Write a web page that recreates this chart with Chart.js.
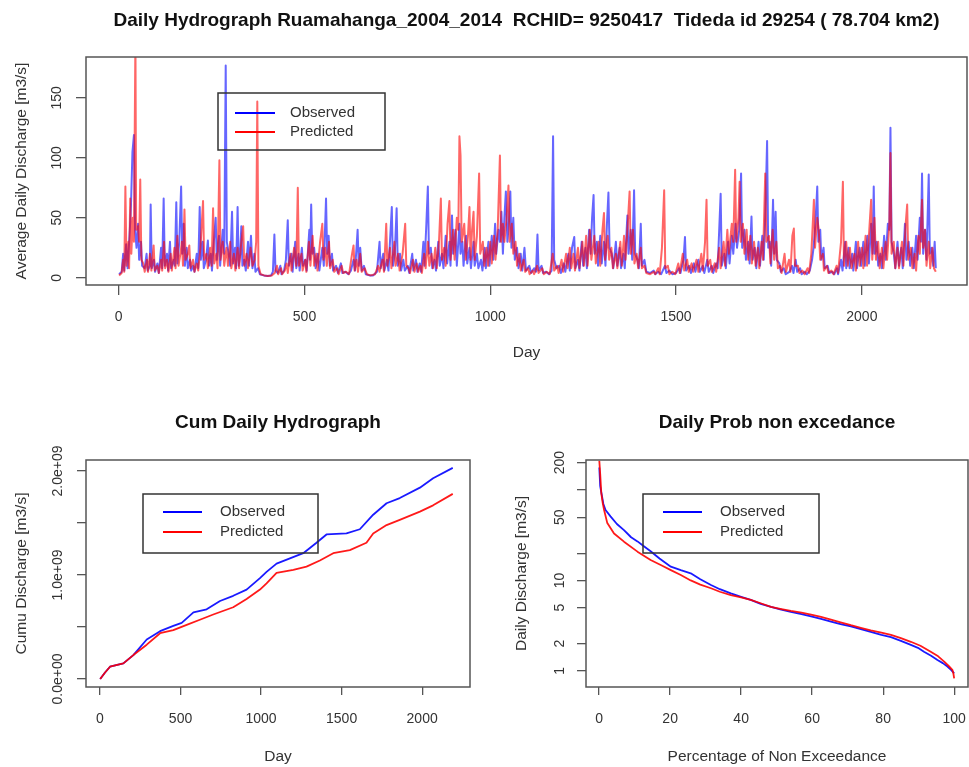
<!DOCTYPE html>
<html>
<head>
<meta charset="utf-8">
<script src="https://cdn.jsdelivr.net/npm/chart.js@4.4.1/dist/chart.umd.min.js"></script>
<style>
  html, body { margin: 0; padding: 0; background: #fff; overflow: hidden; }
  canvas { position: absolute; }
  #top { left: 0; top: 0; }
  #cum { left: 0; top: 400px; }
  #fdc { left: 490px; top: 400px; }
</style>
</head>
<body>
<canvas id="top" width="969" height="380"></canvas>
<canvas id="cum" width="490" height="367"></canvas>
<canvas id="fdc" width="479" height="367"></canvas>
<script>
const seriesNames = ['Observed', 'Predicted'];
const seriesColors = ['#0000ff', '#ff0000'];

// daily discharge [day, m3/s]
const obsDaily = [[1,3],[8,5],[12,20],[15,6],[20,28],[24,8],[30,40],[33,60],[37,105],[41,119],[44,40],[48,25],[52,45],[55,15],[60,30],[63,10],[70,8],[75,20],[78,6],[84,10],[86,61],[89,8],[95,15],[98,5],[104,12],[108,4],[114,25],[117,8],[121,66],[124,10],[130,20],[133,6],[138,30],[141,8],[148,15],[151,10],[155,63],[158,12],[163,30],[168,76],[171,20],[175,45],[178,10],[183,25],[186,8],[192,15],[195,6],[200,10],[204,5],[210,20],[214,8],[218,59],[221,15],[226,30],[229,8],[235,15],[240,31],[243,10],[248,20],[251,6],[256,30],[261,50],[264,15],[270,35],[273,10],[280,40],[284,20],[288,177],[291,30],[296,20],[300,10],[305,55],[308,12],[313,25],[316,8],[320,59],[323,10],[327,20],[330,43],[333,10],[338,15],[342,6],[348,30],[351,10],[356,35],[360,8],[365,20],[368,5],[375,8],[380,3],[390,2],[400,1.5],[410,2],[415,5],[419,36],[422,6],[428,4],[435,10],[438,3],[445,6],[450,15],[455,48],[458,10],[465,20],[468,5],[475,30],[478,8],[484,20],[487,6],[493,25],[496,10],[502,15],[506,6],[513,40],[515,15],[518,61],[521,20],[526,25],[530,8],[536,20],[540,6],[548,25],[552,10],[558,66],[561,20],[565,35],[568,10],[574,20],[577,6],[585,10],[590,4],[598,12],[602,4],[610,5],[618,3],[625,6],[632,15],[636,6],[640,25],[643,40],[646,10],[650,25],[654,6],[660,10],[665,3],[675,2],[685,2],[695,5],[702,30],[705,8],[712,20],[715,6],[722,15],[726,6],[735,59],[738,10],[743,20],[748,58],[751,10],[757,20],[760,6],[766,15],[770,6],[778,10],[782,4],[790,20],[793,6],[800,15],[804,5],[810,12],[814,5],[820,30],[823,10],[828,45],[832,76],[835,20],[840,25],[844,8],[850,15],[854,6],[860,30],[864,10],[870,20],[874,8],[880,35],[884,12],[890,30],[893,10],[897,52],[900,20],[906,40],[910,10],[917,45],[920,20],[925,30],[928,10],[935,35],[938,12],[944,25],[948,8],[955,30],[958,10],[964,20],[968,8],[975,15],[979,6],[985,25],[988,8],[995,30],[998,10],[1004,35],[1008,15],[1013,45],[1016,20],[1022,40],[1026,30],[1030,55],[1034,20],[1038,50],[1042,72],[1046,30],[1050,45],[1054,72],[1057,25],[1062,50],[1066,15],[1072,25],[1076,8],[1082,20],[1086,6],[1092,25],[1096,6],[1105,10],[1110,4],[1118,8],[1123,5],[1127,36],[1130,6],[1138,10],[1142,4],[1150,5],[1158,3],[1165,6],[1169,118],[1172,15],[1178,8],[1185,10],[1190,4],[1198,12],[1202,5],[1210,20],[1214,6],[1220,25],[1226,34],[1229,8],[1236,15],[1240,6],[1246,30],[1250,10],[1256,25],[1260,8],[1266,40],[1270,20],[1274,50],[1278,69],[1281,20],[1287,30],[1290,10],[1296,35],[1300,12],[1306,30],[1310,10],[1314,45],[1318,71],[1321,25],[1327,20],[1331,8],[1338,30],[1342,10],[1348,25],[1352,8],[1358,20],[1362,8],[1369,52],[1372,20],[1378,40],[1382,15],[1387,73],[1390,20],[1396,15],[1400,8],[1405,45],[1408,10],[1415,15],[1420,5],[1430,4],[1440,6],[1444,3],[1452,5],[1460,3],[1470,10],[1474,4],[1482,6],[1490,3],[1500,4],[1508,8],[1512,4],[1520,15],[1524,34],[1527,6],[1535,10],[1540,4],[1548,12],[1552,5],[1560,15],[1564,5],[1572,10],[1576,4],[1584,15],[1588,5],[1596,10],[1600,4],[1608,12],[1612,8],[1620,70],[1623,10],[1630,20],[1634,8],[1640,30],[1644,12],[1650,35],[1654,20],[1660,45],[1664,25],[1670,40],[1675,87],[1678,25],[1684,40],[1688,15],[1694,30],[1698,12],[1703,51],[1706,15],[1712,25],[1716,8],[1722,30],[1726,10],[1732,35],[1736,15],[1740,50],[1745,114],[1748,25],[1752,30],[1756,10],[1761,65],[1764,20],[1768,55],[1771,15],[1778,12],[1782,5],[1790,8],[1795,3],[1805,5],[1812,10],[1816,4],[1822,15],[1826,5],[1834,8],[1838,3],[1846,5],[1852,3],[1860,6],[1866,15],[1870,25],[1875,45],[1880,76],[1883,30],[1888,40],[1891,15],[1897,25],[1900,8],[1908,10],[1912,4],[1920,5],[1926,3],[1933,8],[1936,3],[1944,15],[1948,6],[1955,30],[1958,8],[1964,25],[1967,8],[1974,20],[1977,6],[1984,30],[1987,8],[1994,25],[1998,10],[2004,30],[2008,10],[2015,35],[2019,12],[2025,45],[2029,20],[2032,76],[2035,20],[2040,30],[2044,10],[2050,20],[2054,8],[2060,35],[2064,15],[2070,45],[2074,40],[2077,125],[2080,30],[2086,20],[2090,8],[2096,30],[2100,10],[2106,25],[2110,8],[2116,45],[2120,15],[2126,30],[2130,10],[2136,25],[2140,8],[2146,35],[2150,15],[2156,50],[2159,30],[2162,87],[2165,20],[2170,40],[2174,15],[2180,86],[2183,20],[2188,25],[2192,10],[2196,30],[2199,8]];

const predDaily = [[1,2],[8,4],[12,15],[15,5],[18,76],[21,10],[26,30],[28,8],[31,66],[34,20],[38,50],[41,30],[45,200],[47,40],[52,43],[55,30],[58,82],[61,15],[66,12],[70,5],[76,15],[79,5],[84,20],[88,6],[94,27],[97,6],[104,10],[108,4],[114,15],[117,6],[122,30],[125,8],[130,15],[134,5],[140,20],[143,6],[150,25],[153,8],[158,35],[161,10],[166,20],[170,30],[173,10],[177,57],[180,15],[186,20],[190,27],[193,8],[200,15],[204,5],[210,12],[214,6],[220,25],[227,64],[230,15],[236,20],[240,8],[246,25],[250,10],[254,58],[257,12],[263,20],[266,8],[271,98],[274,15],[280,30],[284,10],[290,25],[294,10],[300,30],[303,8],[310,20],[314,6],[320,25],[324,8],[330,30],[335,43],[338,10],[344,20],[348,8],[355,25],[360,10],[366,15],[370,30],[373,147],[376,10],[382,3],[392,2],[402,1.5],[412,2],[420,4],[426,10],[429,3],[437,8],[440,3],[447,6],[452,12],[455,4],[462,20],[465,6],[472,25],[478,10],[482,75],[485,10],[492,20],[495,6],[502,15],[505,5],[512,30],[516,10],[522,35],[526,10],[532,20],[535,6],[542,30],[548,45],[551,15],[556,25],[560,10],[566,30],[569,8],[576,15],[580,5],[588,8],[592,3],[600,10],[604,4],[612,5],[620,3],[628,20],[632,27],[635,6],[640,15],[644,5],[650,20],[654,5],[662,8],[668,3],[678,2],[690,3],[698,10],[702,5],[710,15],[714,5],[720,45],[723,10],[730,25],[734,8],[742,30],[745,10],[752,20],[756,6],[764,20],[771,45],[774,10],[780,8],[784,4],[792,15],[796,5],[802,12],[806,5],[812,10],[816,4],[822,20],[826,8],[832,30],[836,10],[842,20],[846,8],[852,25],[856,8],[862,30],[867,66],[870,15],[876,25],[880,10],[885,45],[890,64],[893,15],[900,40],[904,15],[910,50],[914,40],[917,118],[920,102],[923,30],[930,45],[934,15],[940,35],[944,59],[947,15],[951,40],[955,55],[958,15],[964,35],[970,87],[973,20],[980,30],[984,10],[990,25],[994,10],[1000,30],[1004,12],[1010,35],[1014,15],[1020,40],[1026,102],[1029,30],[1034,45],[1038,30],[1044,50],[1049,77],[1052,30],[1058,45],[1062,20],[1068,30],[1072,10],[1078,20],[1082,6],[1090,15],[1094,5],[1102,8],[1106,3],[1114,6],[1118,3],[1126,10],[1130,4],[1140,8],[1144,3],[1152,5],[1160,3],[1168,20],[1172,6],[1180,10],[1184,4],[1192,15],[1196,5],[1204,20],[1208,8],[1214,25],[1218,8],[1224,20],[1228,6],[1236,25],[1240,8],[1248,30],[1252,10],[1258,35],[1262,10],[1268,40],[1272,15],[1280,35],[1284,12],[1292,30],[1296,10],[1302,40],[1306,54],[1309,15],[1316,35],[1320,15],[1326,25],[1330,8],[1338,20],[1342,8],[1350,30],[1354,10],[1360,35],[1364,15],[1370,45],[1375,72],[1378,20],[1384,40],[1388,12],[1394,20],[1398,8],[1405,25],[1408,8],[1415,10],[1420,4],[1430,3],[1440,5],[1444,3],[1452,8],[1456,3],[1462,25],[1468,73],[1471,8],[1478,10],[1482,3],[1490,5],[1498,3],[1506,12],[1510,4],[1518,20],[1522,6],[1530,15],[1534,5],[1542,12],[1546,5],[1555,15],[1560,5],[1568,20],[1572,6],[1578,30],[1582,65],[1585,10],[1592,15],[1596,5],[1604,12],[1608,5],[1616,25],[1620,8],[1628,30],[1632,10],[1638,40],[1642,20],[1650,45],[1654,30],[1659,90],[1662,30],[1668,50],[1671,80],[1674,30],[1680,45],[1684,20],[1690,40],[1694,15],[1700,35],[1704,12],[1710,30],[1714,10],[1720,25],[1724,8],[1730,30],[1734,15],[1740,87],[1743,30],[1750,35],[1754,12],[1760,40],[1764,15],[1770,30],[1774,8],[1780,10],[1784,4],[1792,20],[1796,5],[1804,15],[1808,5],[1813,35],[1817,41],[1820,10],[1828,10],[1832,4],[1840,6],[1846,3],[1854,8],[1858,4],[1864,20],[1871,65],[1874,25],[1880,50],[1884,40],[1888,15],[1895,20],[1898,6],[1906,10],[1910,4],[1918,6],[1924,3],[1932,10],[1936,4],[1944,30],[1949,80],[1952,10],[1958,30],[1962,10],[1968,25],[1972,8],[1980,20],[1984,6],[1990,30],[1994,10],[2000,25],[2004,8],[2010,35],[2014,10],[2020,40],[2025,65],[2028,15],[2034,50],[2038,15],[2044,30],[2048,8],[2054,25],[2058,8],[2064,30],[2068,15],[2074,45],[2077,104],[2080,20],[2086,30],[2090,8],[2096,25],[2100,8],[2108,30],[2112,10],[2118,45],[2122,61],[2125,15],[2132,25],[2136,8],[2142,20],[2146,6],[2152,35],[2156,20],[2162,65],[2165,25],[2170,40],[2174,10],[2180,30],[2184,8],[2190,25],[2194,8],[2199,5]];

// cumulative discharge [day, m3/s]
const obsCum = [[1,0],[30,0.06e9],[62,0.118e9],[145,0.15e9],[207,0.23e9],[290,0.38e9],[373,0.46e9],[455,0.51e9],[507,0.54e9],[580,0.64e9],[662,0.67e9],[745,0.75e9],[827,0.80e9],[910,0.86e9],[993,0.97e9],[1034,1.03e9],[1096,1.11e9],[1179,1.16e9],[1262,1.21e9],[1344,1.31e9],[1406,1.39e9],[1530,1.40e9],[1613,1.44e9],[1696,1.58e9],[1779,1.69e9],[1861,1.74e9],[1986,1.84e9],[2068,1.93e9],[2190,2.03e9]];
const predCum = [[1,0],[30,0.06e9],[62,0.118e9],[145,0.15e9],[207,0.23e9],[290,0.33e9],[373,0.44e9],[455,0.47e9],[538,0.52e9],[620,0.57e9],[703,0.62e9],[827,0.69e9],[910,0.77e9],[993,0.86e9],[1034,0.92e9],[1096,1.02e9],[1200,1.05e9],[1282,1.08e9],[1365,1.14e9],[1448,1.21e9],[1551,1.24e9],[1654,1.31e9],[1696,1.40e9],[1779,1.48e9],[1861,1.53e9],[1986,1.61e9],[2068,1.67e9],[2190,1.78e9]];

// flow duration [% non exceedance, m3/s]
const obsFdc = [[0.05,177],[0.3,110],[0.7,90],[1.2,70],[1.8,60],[3.2,51],[5,42],[7,36],[9,30],[10.8,27],[12.5,24],[14.5,21],[17,17.5],[20.2,14.2],[23,13],[25.8,12],[28.5,10.3],[31.5,8.9],[34,8],[37.1,7.2],[40,6.6],[42.7,6.1],[45.5,5.5],[48.4,5.1],[51,4.8],[54,4.5],[57,4.25],[59.7,4.0],[62.5,3.75],[65.3,3.5],[68,3.3],[70.9,3.1],[73.7,2.9],[76.5,2.7],[79.5,2.5],[82.2,2.36],[85,2.15],[87.8,1.94],[89.8,1.8],[91.5,1.63],[93.5,1.47],[95.3,1.32],[96.8,1.22],[98.1,1.12],[99.2,1.02],[100,0.94]];
const predFdc = [[0.05,210],[0.3,150],[0.6,93],[1.0,72],[1.4,60],[2.3,43],[4.2,33],[7,26.8],[10.8,20.8],[14.5,16.8],[17.5,14.7],[20.2,13],[23,11.5],[25.8,10],[28.5,9],[31.5,8.2],[34,7.5],[37.1,6.9],[40,6.5],[42.7,6.1],[45.5,5.6],[48.4,5.1],[51,4.85],[54,4.6],[57,4.4],[59.7,4.2],[62.5,3.95],[65.3,3.7],[68,3.45],[70.9,3.2],[73.7,3.0],[76.5,2.8],[79.5,2.65],[82.2,2.5],[85,2.3],[87.8,2.1],[90.5,1.9],[93.4,1.63],[95.5,1.45],[97.2,1.27],[98.6,1.12],[99.5,1.03],[99.8,0.93],[100,0.83]];

// ticks
const topXTicks = [0, 500, 1000, 1500, 2000];
const topYTicks = [0, 50, 100, 150];
const topYLabels = ['0', '50', '100', '150'];
const cumXTicks = [0, 500, 1000, 1500, 2000];
const cumYTicks = [0, 0.5e9, 1e9, 1.5e9, 2e9];
const cumYLabels = ['0.0e+00', '', '1.0e+09', '', '2.0e+09'];
const fdcXTicks = [0, 20, 40, 60, 80, 100];
const fdcYTicks = [1, 2, 5, 10, 20, 50, 100, 200];
const fdcYLabels = ['1', '2', '5', '10', '', '50', '', '200'];

const fontFam = '"Liberation Sans", Arial, Helvetica, sans-serif';
Chart.defaults.font.family = fontFam;
Chart.defaults.color = '#333';

const toXY = pairs => pairs.map(p => ({ x: p[0], y: p[1] }));

// R style box, main title, rotated y labels and legend
const rFrame = {
  id: 'rFrame',
  afterDraw(chart, args, o) {
    const ctx = chart.ctx, a = chart.chartArea;
    ctx.save();
    ctx.strokeStyle = '#555';
    ctx.lineWidth = 1.5;
    ctx.strokeRect(a.left, a.top, a.right - a.left, a.bottom - a.top);

    ctx.fillStyle = '#111';
    ctx.font = 'bold 19px ' + fontFam;
    ctx.textAlign = 'center';
    ctx.textBaseline = 'middle';
    ctx.fillText(o.title, (a.left + a.right) / 2, o.titleY);

    const ys = chart.scales.y;
    ctx.fillStyle = '#333';
    ctx.font = '14px ' + fontFam;
    o.yTicks.forEach((v, i) => {
      if (!o.yLabels[i]) return;
      ctx.save();
      ctx.translate(o.yLabelX, ys.getPixelForValue(v));
      ctx.rotate(-Math.PI / 2);
      ctx.fillText(o.yLabels[i], 0, 0);
      ctx.restore();
    });

    const L = o.legend;
    ctx.strokeStyle = '#333';
    ctx.lineWidth = 1.5;
    ctx.strokeRect(L.x, L.y, L.w, L.h);
    ctx.textAlign = 'left';
    ctx.font = '15px ' + fontFam;
    seriesNames.forEach((name, i) => {
      const y = L.rows[i];
      ctx.strokeStyle = seriesColors[i];
      ctx.lineWidth = 2;
      ctx.beginPath();
      ctx.moveTo(L.x1, y);
      ctx.lineTo(L.x2, y);
      ctx.stroke();
      ctx.fillStyle = '#333';
      ctx.fillText(name, L.tx, y);
    });
    ctx.restore();
  }
};

function axis(o) {
  return {
    type: o.type || 'linear',
    min: o.min,
    max: o.max,
    afterBuildTicks: s => { s.ticks = o.ticks.map(v => ({ value: v })); },
    afterFit: s => {
      if (o.width) s.width = o.width;
      if (o.height) {
        s.height = o.height;
        s.paddingLeft = 0;
        s.paddingRight = 0;
      }
    },
    grid: { drawOnChartArea: false, drawTicks: true, tickLength: o.tickLen, color: '#555', lineWidth: 1.3 },
    border: { display: false },
    ticks: o.labels
      ? { color: '#333', font: { size: 14 }, padding: o.pad, maxRotation: 0, autoSkip: false, callback: (v, i) => o.labels[i] }
      : { display: false },
    title: { display: true, text: o.title, color: '#333', font: { size: 15.5 }, padding: o.titlePad }
  };
}

function lineSet(pairs, i, width, alpha) {
  const c = i === 0 ? 'rgba(0,0,255,' + alpha + ')' : 'rgba(255,0,0,' + alpha + ')';
  return {
    label: seriesNames[i],
    data: toXY(pairs),
    borderColor: c,
    borderWidth: width,
    borderJoinStyle: 'round',
    pointRadius: 0,
    tension: 0,
    clip: 0,
    order: i === 0 ? 2 : 1
  };
}

function baseOptions(padding, x, y, frame) {
  return {
    responsive: false,
    animation: false,
    devicePixelRatio: 1,
    layout: { padding: padding },
    plugins: { legend: { display: false }, tooltip: { enabled: false }, rFrame: frame },
    scales: { x: axis(x), y: axis(y) }
  };
}

new Chart(document.getElementById('top'), {
  type: 'line',
  data: { datasets: [lineSet(obsDaily, 0, 2, 0.6), lineSet(predDaily, 1, 2, 0.6)] },
  options: baseOptions(
    { left: 0, right: 2, top: 57, bottom: 0 },
    { min: -88, max: 2283, ticks: topXTicks, labels: topXTicks.map(String), height: 95, tickLen: 10, pad: 14,
      title: 'Day', titlePad: { top: 0, bottom: 18 } },
    { min: -6, max: 184, ticks: topYTicks, width: 86, tickLen: 10,
      title: 'Average Daily Discharge [m3/s]', titlePad: { top: 12, bottom: 0 } },
    { title: 'Daily Hydrograph Ruamahanga_2004_2014  RCHID= 9250417  Tideda id 29254 ( 78.704 km2)', titleY: 21,
      yTicks: topYTicks, yLabels: topYLabels, yLabelX: 57,
      legend: { x: 218, y: 93, w: 167, h: 57, x1: 235, x2: 275, tx: 290, rows: [113, 132] } }
  ),
  plugins: [rFrame]
});

new Chart(document.getElementById('cum'), {
  type: 'line',
  data: { datasets: [lineSet(obsCum, 0, 1.8, 0.9), lineSet(predCum, 1, 1.8, 0.9)] },
  options: baseOptions(
    { left: 0, right: 20, top: 60, bottom: 0 },
    { min: -87, max: 2297, ticks: cumXTicks, labels: cumXTicks.map(String), height: 80, tickLen: 8, pad: 16,
      title: 'Day', titlePad: { top: 0, bottom: 1 } },
    { min: -0.077e9, max: 2.106e9, ticks: cumYTicks, width: 86, tickLen: 9,
      title: 'Cumu Discharge [m3/s]', titlePad: { top: 12, bottom: 0 } },
    { title: 'Cum Daily Hydrograph', titleY: 23,
      yTicks: cumYTicks, yLabels: cumYLabels, yLabelX: 58,
      legend: { x: 143, y: 94, w: 175, h: 59, x1: 163, x2: 202, tx: 220, rows: [112, 132] } }
  ),
  plugins: [rFrame]
});

new Chart(document.getElementById('fdc'), {
  type: 'line',
  data: { datasets: [lineSet(obsFdc, 0, 1.8, 0.9), lineSet(predFdc, 1, 1.8, 0.9)] },
  options: baseOptions(
    { left: 0, right: 1, top: 60, bottom: 0 },
    { min: -3.7, max: 103.9, ticks: fdcXTicks, labels: fdcXTicks.map(String), height: 80, tickLen: 8, pad: 16,
      title: 'Percentage of Non Exceedance', titlePad: { top: 0, bottom: 1 } },
    { type: 'logarithmic', min: 0.665, max: 214, ticks: fdcYTicks, width: 96, tickLen: 9,
      title: 'Daily Discharge [m3/s]', titlePad: { top: 22, bottom: 0 } },
    { title: 'Daily Prob non excedance', titleY: 23,
      yTicks: fdcYTicks, yLabels: fdcYLabels, yLabelX: 70,
      legend: { x: 153, y: 94, w: 176, h: 59, x1: 173, x2: 212, tx: 230, rows: [112, 132] } }
  ),
  plugins: [rFrame]
});
</script>
</body>
</html>
